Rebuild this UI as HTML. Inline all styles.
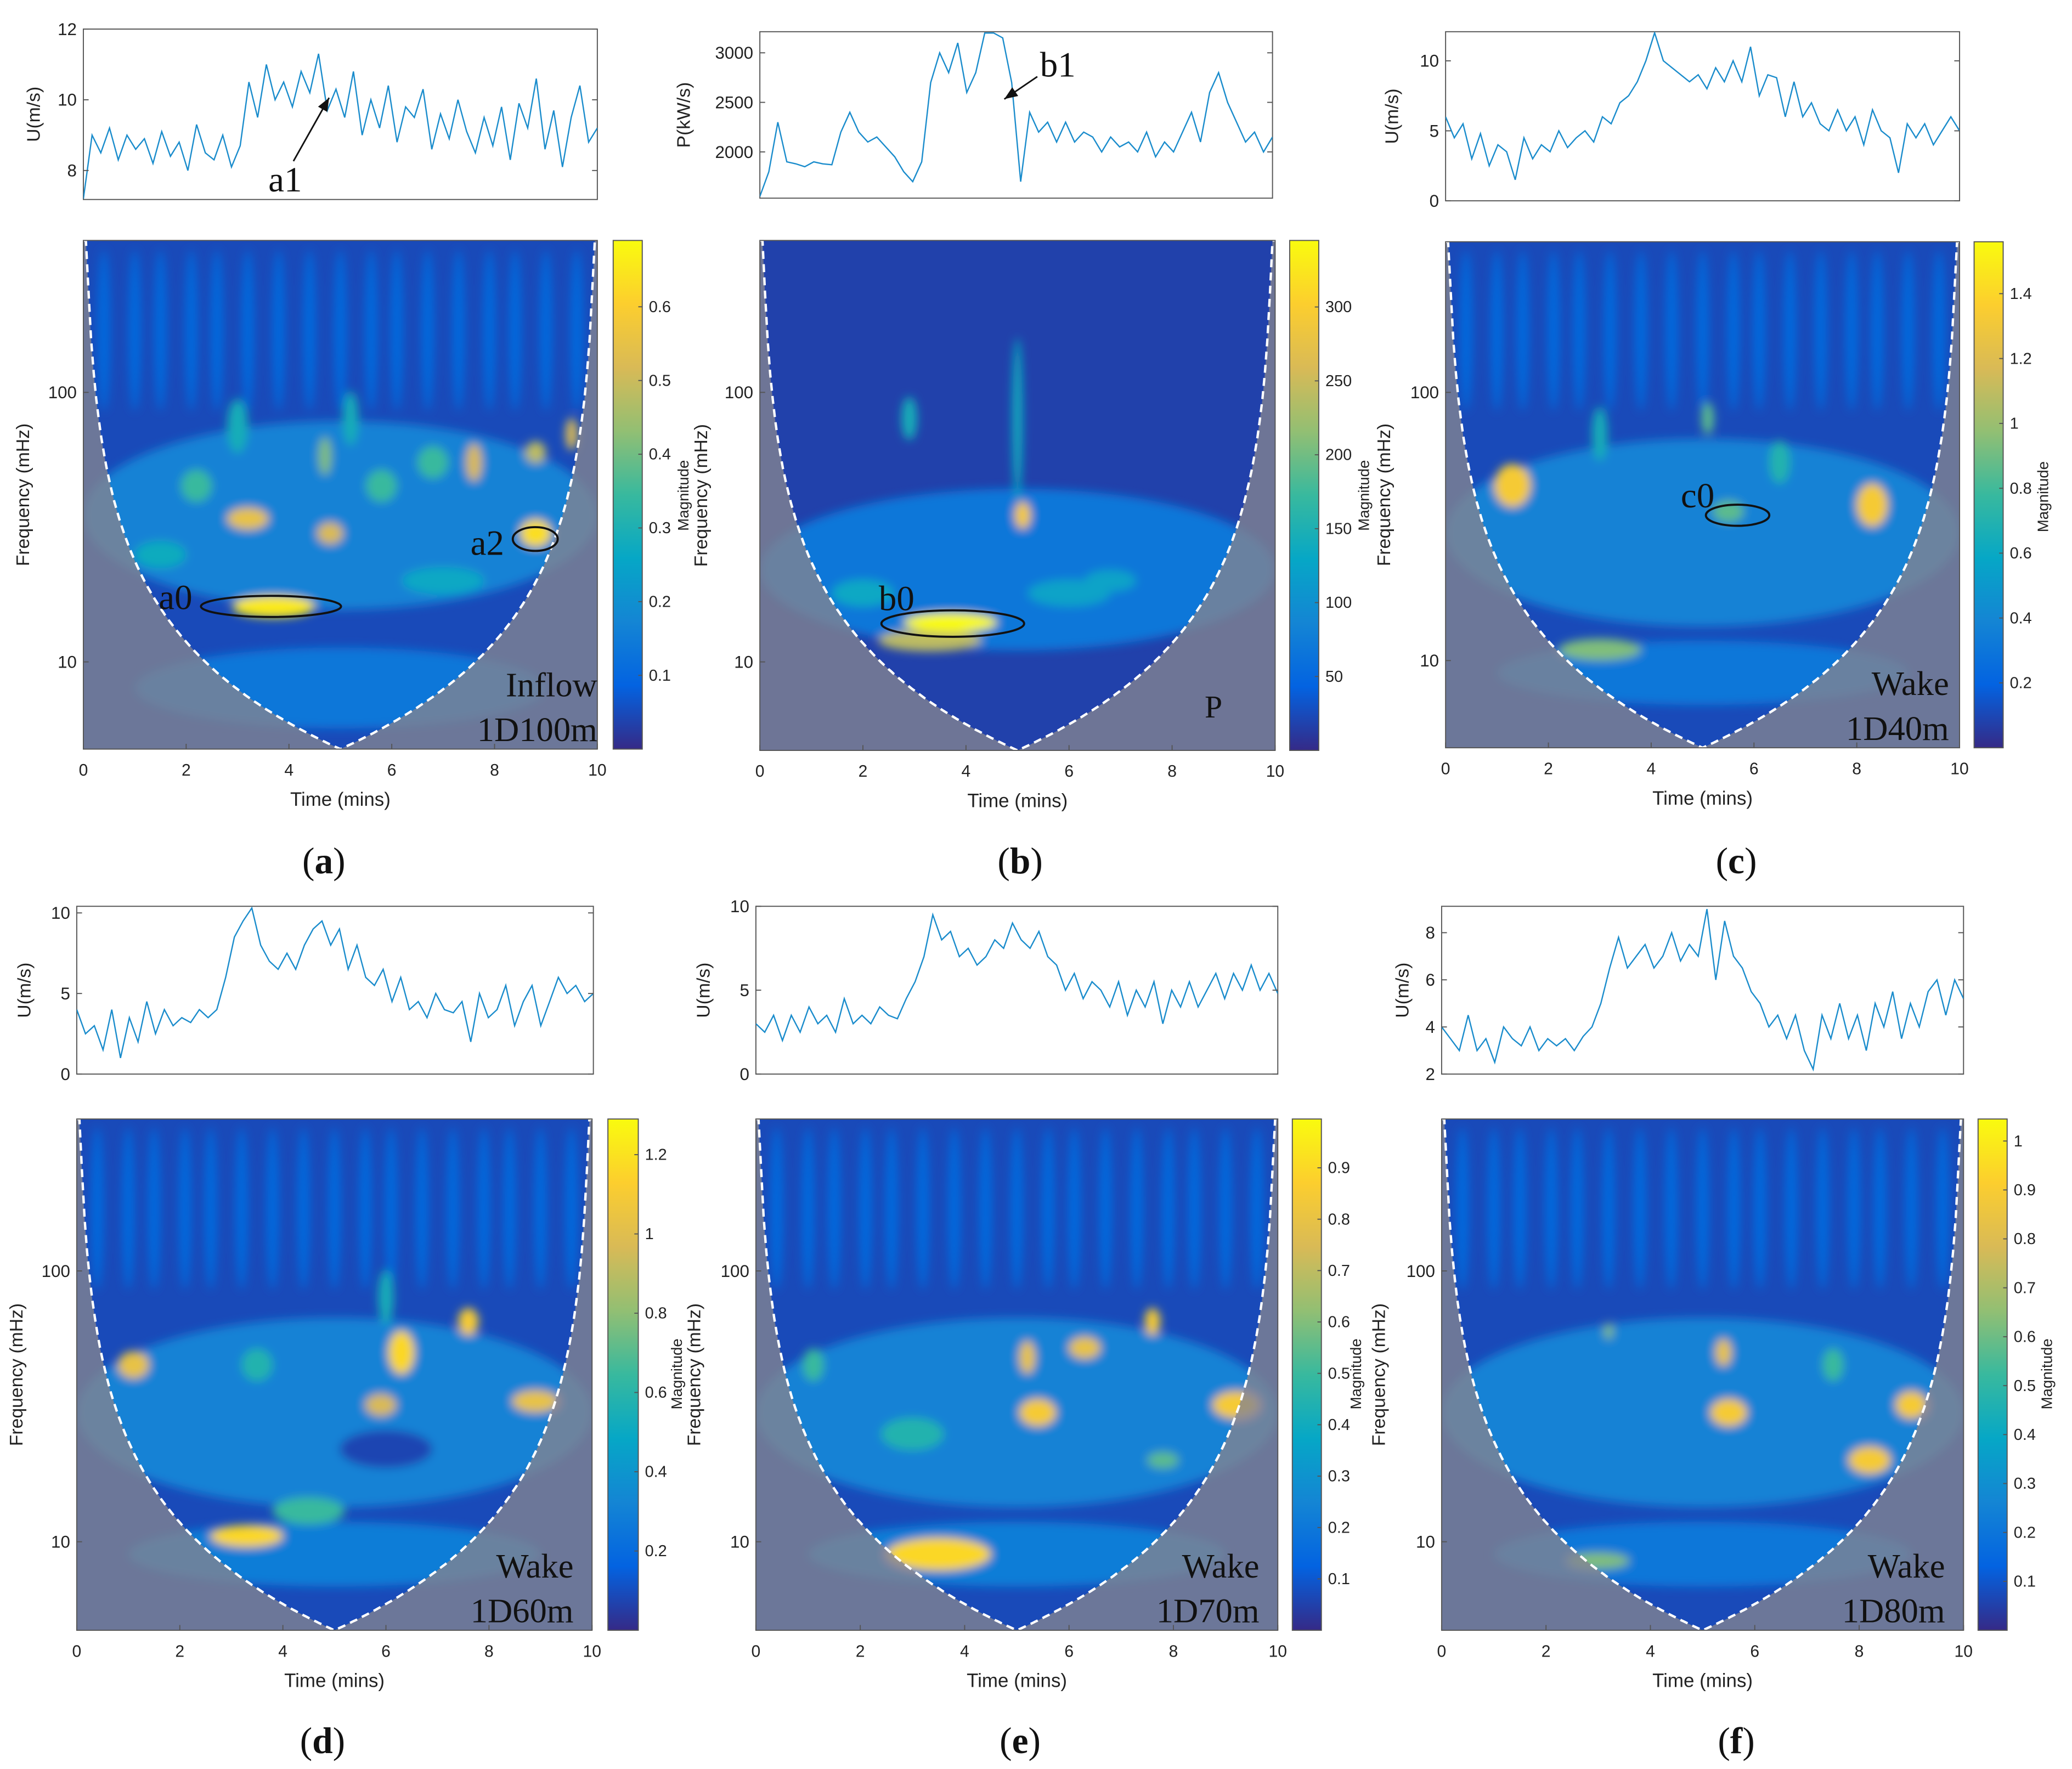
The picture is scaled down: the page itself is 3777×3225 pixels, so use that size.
<!DOCTYPE html>
<html><head><meta charset="utf-8"><style>
html,body{margin:0;padding:0;background:#fff}
svg{display:block}
text{font-family:"Liberation Sans",Arial,sans-serif}
.serif{font-family:"Liberation Serif","Times New Roman",serif}
</style></head><body>
<svg id="fig" width="3777" height="3225" viewBox="0 0 1568 1339" xmlns="http://www.w3.org/2000/svg">
<defs>
<filter id="blur" x="-50%" y="-50%" width="200%" height="200%"><feGaussianBlur stdDeviation="3.5"/></filter>
</defs>
</svg>
<script>
// ---- data ----
const seriesA=[7.2,9,8.5,9.2,8.3,9,8.6,8.9,8.2,9.1,8.4,8.8,8,9.3,8.5,8.3,9,8.1,8.7,10.5,9.5,11,10,10.5,9.8,10.8,10.2,11.3,9.7,10.3,9.5,10.8,9,10,9.2,10.4,8.8,9.8,9.5,10.3,8.6,9.6,8.9,10,9.1,8.5,9.5,8.7,9.8,8.3,9.9,9.2,10.6,8.6,9.7,8.1,9.5,10.4,8.8,9.2];
const seriesB=[1550,1800,2300,1900,1880,1850,1900,1880,1870,2200,2400,2200,2100,2150,2050,1950,1800,1700,1900,2700,3000,2800,3100,2600,2800,3200,3200,3150,2700,1700,2400,2200,2300,2100,2300,2100,2200,2150,2000,2150,2050,2100,2000,2200,1950,2100,2000,2200,2400,2100,2600,2800,2500,2300,2100,2200,2000,2150];
const seriesC=[6,4.5,5.5,3,4.8,2.5,4,3.5,1.5,4.5,3,4,3.5,5,3.8,4.5,5,4.2,6,5.5,7,7.5,8.5,10,12,10,9.5,9,8.5,9,8,9.5,8.5,10,8.5,11,7.5,9,8.8,6,8.5,6,7,5.5,5,6.5,5,6,4,6.5,5,4.5,2,5.5,4.5,5.5,4,5,6,5];
const seriesD=[4,2.5,3,1.5,4,1,3.5,2,4.5,2.5,4,3,3.5,3.2,4,3.5,4,6,8.5,9.5,10.3,8,7,6.5,7.5,6.5,8,9,9.5,8,9,6.5,8,6,5.5,6.5,4.5,6,4,4.5,3.5,5,4,3.8,4.5,2,5,3.5,4,5.5,3,4.5,5.5,3,4.5,6,5,5.5,4.5,5];
const seriesE=[3,2.5,3.5,2,3.5,2.5,4,3,3.5,2.5,4.5,3,3.5,3,4,3.5,3.3,4.5,5.5,7,9.5,8,8.5,7,7.5,6.5,7,8,7.5,9,8,7.5,8.5,7,6.5,5,6,4.5,5.5,5,4,5.5,3.5,5,4,5.5,3,5,4,5.5,4,5,6,4.5,6,5,6.5,5,6,4.8];
const seriesF=[4,3.5,3,4.5,3,3.5,2.5,4,3.5,3.2,4,3,3.5,3.2,3.5,3,3.6,4,5,6.5,7.8,6.5,7,7.5,6.5,7,8,6.8,7.5,7,9,6,8.5,7,6.5,5.5,5,4,4.5,3.5,4.5,3,2.2,4.5,3.5,5,3.5,4.5,3,5,4,5.5,3.5,5,4,5.5,6,4.5,6,5.2];
// hotspots: [time(min), freq(mHz), magnitude(0-1 of max), halfwidth(min), halfheight(decades)]
const blobsA=[[5,35,0.24,5,0.35],[5,8,0.2,4,0.15],[3.7,16,0.95,0.8,0.04],[8.8,30,0.92,0.3,0.05],[3.2,34,0.8,0.4,0.04],[4.8,30,0.75,0.25,0.04],[7.6,55,0.75,0.15,0.07],[9.5,70,0.75,0.12,0.06],[8.8,60,0.7,0.2,0.04],[4.7,58,0.6,0.12,0.07],[2.2,45,0.5,0.3,0.06],[5.8,45,0.5,0.3,0.06],[6.8,55,0.5,0.3,0.06],[1.5,25,0.4,0.5,0.05],[7,20,0.38,0.8,0.05],[3,75,0.42,0.2,0.1],[5.2,80,0.42,0.15,0.1]];
const blobsB=[[5,22,0.2,5,0.3],[3.3,12,0.7,1,0.04],[3.7,14,1.0,0.9,0.035],[5.1,35,0.85,0.15,0.05],[5.0,80,0.4,0.1,0.3],[2.9,80,0.42,0.15,0.08],[2,18,0.38,0.6,0.05],[6,18,0.36,0.8,0.05],[6.8,20,0.36,0.5,0.04]];
const blobsC=[[5,30,0.24,5,0.35],[5,9,0.2,4,0.12],[1.3,45,0.85,0.35,0.08],[8.3,38,0.85,0.3,0.08],[3,11,0.6,0.8,0.04],[5.1,80,0.55,0.12,0.06],[5.5,36,0.55,0.3,0.04],[6.5,55,0.45,0.2,0.08],[3,70,0.42,0.15,0.1]];
const blobsD=[[5,30,0.24,5,0.35],[5,9,0.22,4,0.12],[6,22,0.06,0.9,0.07],[1.1,45,0.8,0.3,0.05],[3.3,10.5,0.9,0.7,0.04],[6.3,50,0.9,0.25,0.08],[7.6,65,0.85,0.2,0.05],[8.9,33,0.8,0.45,0.04],[5.9,32,0.75,0.3,0.04],[4.5,13,0.5,0.7,0.05],[3.5,45,0.45,0.3,0.06],[6,80,0.42,0.15,0.1]];
const blobsE=[[5,30,0.24,5,0.35],[5,9,0.22,4,0.12],[3.5,9,0.9,1,0.06],[5.4,30,0.85,0.35,0.05],[5.2,48,0.8,0.15,0.06],[6.3,52,0.8,0.3,0.04],[7.6,65,0.85,0.15,0.05],[9.2,32,0.85,0.45,0.05],[1.1,45,0.5,0.2,0.06],[7.8,20,0.55,0.3,0.03],[3,25,0.45,0.6,0.06]];
const blobsF=[[5,30,0.24,5,0.35],[5,9,0.2,4,0.12],[5.5,30,0.85,0.35,0.05],[5.4,50,0.8,0.15,0.05],[8.2,20,0.85,0.4,0.05],[9,32,0.85,0.3,0.05],[3,8.5,0.6,0.6,0.03],[3.2,60,0.6,0.08,0.03],[7.5,45,0.5,0.2,0.06]];
const streakTimes=[0.4,1.0,1.5,2.1,2.6,3.2,3.8,4.4,5.0,5.6,6.1,6.7,7.3,7.9,8.4,9.0,9.6];
const timeTicks=[0,2,4,6,8,10];
const freqTicks=[10,100];

// ---- layout ----
const panels=[
 {id:'a',series:seriesA,blobs:blobsA,top:{x0:63,x1:452,y0:22,y1:151,vmin:7.18,vmax:12,ticks:[8,10,12],label:'U(m/s)',lx:30},sc:{x0:63,x1:452,y0:182,y1:567,y10:501,dec:204},cb:{x0:464,x1:486,max:0.69,ticks:[0.1,0.2,0.3,0.4,0.5,0.6],mx:521},fx:22,letter:'a',lxp:245,lyp:652,corner:['Inflow','1D100m'],cx:452},
 {id:'b',series:seriesB,blobs:blobsB,top:{x0:575,x1:963,y0:24,y1:150,vmin:1533,vmax:3213,ticks:[2000,2500,3000],label:'P(kW/s)',lx:522},sc:{x0:575,x1:965,y0:182,y1:568,y10:501,dec:204},cb:{x0:976,x1:998,max:345,ticks:[50,100,150,200,250,300],mx:1036},fx:535,letter:'b',lxp:772,lyp:652,corner:['','P'],cx:925},
 {id:'c',series:seriesC,blobs:blobsC,top:{x0:1094,x1:1483,y0:24,y1:152,vmin:0,vmax:12.08,ticks:[0,5,10],label:'U(m/s)',lx:1058},sc:{x0:1094,x1:1483,y0:183,y1:566,y10:500,dec:203},cb:{x0:1494,x1:1516,max:1.56,ticks:[0.2,0.4,0.6,0.8,1,1.2,1.4],mx:1550},fx:1052,letter:'c',lxp:1314,lyp:652,corner:['Wake','1D40m'],cx:1475},
 {id:'d',series:seriesD,blobs:blobsD,top:{x0:58,x1:449,y0:686,y1:813,vmin:0,vmax:10.41,ticks:[0,5,10],label:'U(m/s)',lx:23},sc:{x0:58,x1:448,y0:847,y1:1234,y10:1167,dec:205},cb:{x0:460,x1:483,max:1.29,ticks:[0.2,0.4,0.6,0.8,1,1.2],mx:516},fx:17,letter:'d',lxp:244,lyp:1318,corner:['Wake','1D60m'],cx:434},
 {id:'e',series:seriesE,blobs:blobsE,top:{x0:572,x1:967,y0:686,y1:813,vmin:0,vmax:10,ticks:[0,5,10],label:'U(m/s)',lx:537},sc:{x0:572,x1:967,y0:847,y1:1234,y10:1167,dec:205},cb:{x0:978,x1:1000,max:0.995,ticks:[0.1,0.2,0.3,0.4,0.5,0.6,0.7,0.8,0.9],mx:1030},fx:530,letter:'e',lxp:772,lyp:1318,corner:['Wake','1D70m'],cx:953},
 {id:'f',series:seriesF,blobs:blobsF,top:{x0:1091,x1:1486,y0:686,y1:813,vmin:2,vmax:9.12,ticks:[2,4,6,8],label:'U(m/s)',lx:1066},sc:{x0:1091,x1:1486,y0:847,y1:1234,y10:1167,dec:205},cb:{x0:1497,x1:1519,max:1.045,ticks:[0.1,0.2,0.3,0.4,0.5,0.6,0.7,0.8,0.9,1],mx:1553},fx:1048,letter:'f',lxp:1314,lyp:1318,corner:['Wake','1D80m'],cx:1472}
];
const P=[[0,'#352A87'],[0.125,'#0363E1'],[0.25,'#1485D4'],[0.375,'#06A7C6'],[0.5,'#38B99E'],[0.625,'#92BF73'],[0.75,'#D9BA56'],[0.875,'#FCCE2E'],[1,'#F9FB0E']];
function hex(h){return [1,3,5].map(i=>parseInt(h.substr(i,2),16));}
function parula(v){v=Math.max(0,Math.min(1,v));for(let i=1;i<P.length;i++){if(v<=P[i][0]){const a=hex(P[i-1][1]),b=hex(P[i][1]),t=(v-P[i-1][0])/(P[i][0]-P[i-1][0]);return 'rgb('+a.map((c,k)=>Math.round(c+(b[k]-c)*t)).join(',')+')';}}return P[P.length-1][1];}
const NS='http://www.w3.org/2000/svg';
const svg=document.getElementById('fig');
function el(tag,attrs,parent){const e=document.createElementNS(NS,tag);for(const k in attrs)e.setAttribute(k,attrs[k]);(parent||svg).appendChild(e);return e;}
function txt(s,attrs,parent){const e=el('text',attrs,parent);e.textContent=s;return e;}

const defs=svg.querySelector('defs');
const grad=el('linearGradient',{id:'parula',x1:0,y1:1,x2:0,y2:0},defs);
P.forEach(s=>el('stop',{offset:s[0],'stop-color':s[1]},grad));

panels.forEach(p=>{
 const g=el('g',{});
 
 
 const T=p.top;
 const tx=i=>T.x0+(T.x1-T.x0)*i/(p.series.length-1);
 const ty=v=>T.y1-(v-T.vmin)/(T.vmax-T.vmin)*(T.y1-T.y0);
 const tb=el('rect',{x:T.x0,y:T.y0,width:T.x1-T.x0,height:T.y1-T.y0,fill:'#fff',stroke:'#555','stroke-width':0.8},g);
 
 
 const cp=el('clipPath',{id:'tc'+p.id},defs);el('rect',{x:T.x0,y:T.y0,width:T.x1-T.x0,height:T.y1-T.y0},cp);
 const line=el('polyline',{points:p.series.map((v,i)=>tx(i).toFixed(1)+','+ty(v).toFixed(1)).join(' '),fill:'none',stroke:'#1a8ccc','stroke-width':1,'clip-path':'url(#tc'+p.id+')'},g);
 
 
 T.ticks.forEach(v=>{const y=ty(v);el('line',{x1:T.x0,x2:T.x0+4,y1:y,y2:y,stroke:'#555','stroke-width':0.8},g);el('line',{x1:T.x1,x2:T.x1-4,y1:y,y2:y,stroke:'#555','stroke-width':0.8},g);
  const t=txt(String(v),{x:T.x0-5,y:y+4.5,'font-size':13,'text-anchor':'end',fill:'#222'},g);});
 const yl=txt(T.label,{x:T.lx,y:(T.y0+T.y1)/2,'font-size':14,'text-anchor':'middle',transform:'rotate(-90 '+T.lx+' '+(T.y0+T.y1)/2+')',fill:'#222'},g);
 
 const S=p.sc;
 const xs=t=>S.x0+(S.x1-S.x0)*t/10;
 const yf=f=>S.y10-(Math.log10(f)-1)*S.dec;
 const fTop=Math.pow(10,1+(S.y10-S.y0)/S.dec), fBot=Math.pow(10,1-(S.y1-S.y10)/S.dec);
 const sc=el('clipPath',{id:'sc'+p.id},defs);el('rect',{x:S.x0,y:S.y0,width:S.x1-S.x0,height:S.y1-S.y0},sc);
 const sg=el('g',{'clip-path':'url(#sc'+p.id+')'},g);
 
 el('rect',{x:S.x0,y:S.y0,width:S.x1-S.x0,height:S.y1-S.y0,fill:parula(p.id==='b'?0.05:0.07)},sg);
 const bg=el('g',{filter:'url(#blur)'},sg);
 streakTimes.forEach(t=>{if(p.id==='b')return;const e=el('ellipse',{cx:xs(t),cy:yf(170),rx:(S.x1-S.x0)*0.012,ry:S.dec*0.3,fill:parula(0.15)},bg);});
 p.blobs.forEach(b=>{const e=el('ellipse',{cx:xs(b[0]),cy:yf(b[1]),rx:(S.x1-S.x0)*b[3]/10,ry:S.dec*b[4],fill:parula(b[2])},bg);});
 const k=5*fBot;let pts=[];
 for(let i=0;i<=200;i++){const t=i/20;const d=Math.min(t,10-t);let f=d<=0?fTop:k/d;f=Math.min(f,fTop);pts.push([xs(t),yf(f)]);}
 const coiD='M'+pts.map(q=>q[0].toFixed(1)+','+q[1].toFixed(1)).join(' L');
 const sh=el('path',{d:coiD+' L'+S.x1+','+S.y1+' L'+S.x0+','+S.y1+' Z',fill:'#84848f','fill-opacity':0.78},sg);
 
 const cl=el('path',{d:coiD,fill:'none',stroke:'#fff','stroke-width':1.8,'stroke-dasharray':'6 4'},sg);
 
 el('rect',{x:S.x0,y:S.y0,width:S.x1-S.x0,height:S.y1-S.y0,fill:'none',stroke:'#555','stroke-width':0.8},g);
 freqTicks.forEach(f=>{const y=yf(f);el('line',{x1:S.x0,x2:S.x0+4,y1:y,y2:y,stroke:'#555','stroke-width':0.8},g);
  const t=txt(String(f),{x:S.x0-5,y:y+4.5,'font-size':13,'text-anchor':'end',fill:'#222'},g);});
 timeTicks.forEach(v=>{const x=xs(v);el('line',{x1:x,x2:x,y1:S.y1,y2:S.y1-4,stroke:'#555','stroke-width':0.8},g);
  const t=txt(String(v),{x:x,y:S.y1+20,'font-size':12.5,'text-anchor':'middle',fill:'#222'},g);});
 const xt=txt('Time (mins)',{x:(S.x0+S.x1)/2,y:S.y1+43,'font-size':14.5,'text-anchor':'middle',fill:'#222'},g);
 
 const fy=(S.y0+S.y1)/2;
 const ft=txt('Frequency (mHz)',{x:p.fx,y:fy,'font-size':14,'text-anchor':'middle',transform:'rotate(-90 '+p.fx+' '+fy+')',fill:'#222'},g);
 
 if(p.corner[0]){const c=txt(p.corner[0],{x:p.cx,y:S.y1-40,'font-size':26,'text-anchor':'end',fill:'#111',class:'serif'},g);}
 const c2=txt(p.corner[1],{x:p.cx,y:S.y1-6,'font-size':p.id==='b'?24:26,'text-anchor':'end',fill:'#111',class:'serif'},g);
 if(p.id==='b')c2.setAttribute('y',S.y1-25);
 
 const C=p.cb;
 const cby=v=>S.y1-v/C.max*(S.y1-S.y0);
 const cb=el('rect',{x:C.x0,y:S.y0,width:C.x1-C.x0,height:S.y1-S.y0,fill:'url(#parula)',stroke:'#555','stroke-width':0.8},g);
 
 C.ticks.forEach(v=>{const y=cby(v);el('line',{x1:C.x1,x2:C.x1-3,y1:y,y2:y,stroke:'#555','stroke-width':0.8},g);
  const t=txt(String(v),{x:C.x1+5,y:y+4,'font-size':12,fill:'#222'},g);});
 const mg=txt('Magnitude',{x:C.mx,y:375+(S.y0-182),'font-size':11.5,'text-anchor':'middle',transform:'rotate(-90 '+C.mx+' '+(375+S.y0-182)+')',fill:'#222'},g);
 
 const L=el('text',{x:p.lxp,y:p.lyp+9,'font-size':28,'text-anchor':'middle',fill:'#111',class:'serif'},g);
 L.innerHTML='(<tspan font-weight="bold">'+p.letter+'</tspan>)';
 
});

function ann(s,x,y,name){const t=txt(s,{x:x,y:y,'font-size':27,fill:'#111',class:'serif'});}
function ring(cx,cy,rx,ry,name){const e=el('ellipse',{cx:cx,cy:cy,rx:rx,ry:ry,fill:'none',stroke:'#111','stroke-width':1.6});}
function arrow(x1,y1,x2,y2,name){const g=el('g',{});
 el('line',{x1:x1,y1:y1,x2:x2,y2:y2,stroke:'#111','stroke-width':1.2},g);
 const a=Math.atan2(y2-y1,x2-x1),L=10,W=4;
 const p1=[x2-L*Math.cos(a)+W*Math.sin(a),y2-L*Math.sin(a)-W*Math.cos(a)],p2=[x2-L*Math.cos(a)-W*Math.sin(a),y2-L*Math.sin(a)+W*Math.cos(a)];
 el('polygon',{points:x2+','+y2+' '+p1.join(',')+' '+p2.join(','),fill:'#111'},g);}
ann('a1',203,145,'annotation-a1');arrow(222,122,249,74,'arrow-a1');
ann('a0',120,461,'annotation-a0');ring(205,459,53,8,'ellipse-a0');
ann('a2',356,420,'annotation-a2');ring(405,408,17,9,'ellipse-a2');
ann('b0',665,462,'annotation-b0');ring(721,472,54,10,'ellipse-b0');
ann('b1',787,58,'annotation-b1');arrow(785,58,760,75,'arrow-b1');
ann('c0',1272,384,'annotation-c0');ring(1315,390,24,8,'ellipse-c0');
</script>
</body></html>
